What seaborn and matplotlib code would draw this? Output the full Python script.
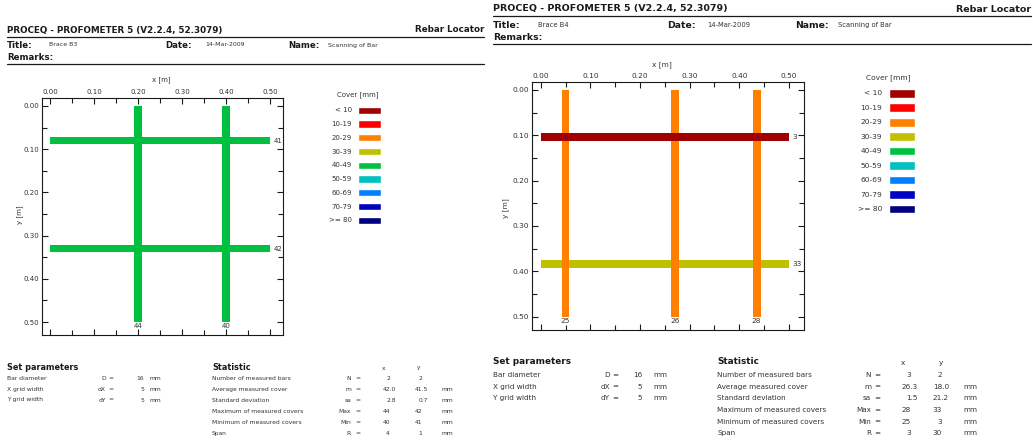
import matplotlib
matplotlib.use("Agg")
import matplotlib.pyplot as plt
from matplotlib.ticker import MultipleLocator, FormatStrFormatter
import seaborn as sns

W, H = 1033, 441

# Cover classes (legend)
cover_bins = ["< 10", "10-19", "20-29", "30-39", "40-49", "50-59", "60-69", "70-79", ">= 80"]
cover_colors = ["#a00000", "#ff0000", "#ff8000", "#c0c000", "#00c040",
                "#00c0c0", "#0080ff", "#0000c0", "#000080"]

# Brace B3: bars along y (vertical, at x pos) and along x (horizontal, at y pos)
b3_x_pos = [0.20, 0.40]
b3_x_cover = [44, 40]
b3_y_pos = [0.08, 0.33]
b3_y_cover = [41, 42]

# Brace B4
b4_x_pos = [0.05, 0.27, 0.435]
b4_x_cover = [25, 26, 28]
b4_y_pos = [0.104, 0.384]
b4_y_cover = [3, 33]

bar_len = 0.5
bar_d = 0.016

param_labels = ["Bar diameter", "X grid width", "Y grid width"]
param_sym = ["D", "dX", "dY"]
param_vals = ["16", "5", "5"]

stat_labels = ["Number of measured bars", "Average measured cover", "Standard deviation",
               "Maximum of measured covers", "Minimum of measured covers", "Span"]
stat_sym = ["N", "m", "sa", "Max", "Min", "R"]
b3_stat_x = ["2", "42.0", "2.8", "44", "40", "4"]
b3_stat_y = ["2", "41.5", "0.7", "42", "41", "1"]
b4_stat_x = ["3", "26.3", "1.5", "28", "25", "3"]
b4_stat_y = ["2", "18.0", "21.2", "33", "3", "30"]

sns.set_theme(style="white")
plt.rcParams["font.family"] = ["DejaVu Sans"]

DARK = "#1a1a1a"
GREY = "#333333"


def cover_color(c):
    return cover_colors[min(int(c // 10), 8)]


fig = plt.figure(figsize=(W / 100, H / 100), dpi=100)
fig.patch.set_facecolor("white")

# overlay in pixel coordinates for the report text
ov = fig.add_axes([0, 0, 1, 1])
ov.set_xlim(0, W)
ov.set_ylim(H, 0)
ov.axis("off")


def put(x, y, s, size, bold=False, ha="left", color=GREY, **kw):
    ov.text(x, y, s, fontsize=size, fontweight="bold" if bold else "normal",
            ha=ha, va="center", color=color, **kw)


def put_num(xcol, y, s, size):
    # integers end at the column, decimals keep their point on it
    if "." in s:
        put(xcol + 0.954 * size * 100 / 72, y, s, size, ha="right")
    else:
        put(xcol, y, s, size, ha="right")


def draw_report(L, title, xpos, xcov, ypos, ycov, sx, sy):
    # header
    put(L["x0"], L["hy"], "PROCEQ - PROFOMETER 5 (V2.2.4, 52.3079)", L["hs"], True, color=DARK)
    put(L["x1"], L["hy"], "Rebar Locator", L["hs"], True, ha="right", color=DARK)
    ov.plot([L["x0"], L["x1"]], [L["l1"], L["l1"]], color=DARK, lw=0.9)
    put(L["x0"], L["ty"], "Title:", L["ls"], True, color=DARK)
    put(L["tv"], L["ty"], title, L["ss"])
    put(L["dl"], L["ty"], "Date:", L["ls"], True, color=DARK)
    put(L["dv"], L["ty"], "14-Mar-2009", L["ss"])
    put(L["nl"], L["ty"], "Name:", L["ls"], True, color=DARK)
    put(L["nv"], L["ty"], "Scanning of Bar", L["ss"])
    put(L["x0"], L["ry"], "Remarks:", L["ls"], True, color=DARK)
    ov.plot([L["x0"], L["x1"]], [L["l2"], L["l2"]], color=DARK, lw=0.9)

    # scan plot
    left, right, top, bottom = L["box"]
    ax = fig.add_axes([left / W, 1 - bottom / H, (right - left) / W, (bottom - top) / H])
    ax.set_xlim(*L["xlim"])
    ax.set_ylim(*L["ylim"])
    for s in ax.spines.values():
        s.set_visible(True)
        s.set_color(DARK)
        s.set_linewidth(0.8)
    ax.xaxis.set_major_locator(MultipleLocator(0.1))
    ax.xaxis.set_minor_locator(MultipleLocator(0.05))
    ax.yaxis.set_major_locator(MultipleLocator(0.1))
    ax.yaxis.set_minor_locator(MultipleLocator(0.05))
    ax.xaxis.set_major_formatter(FormatStrFormatter("%.2f"))
    ax.yaxis.set_major_formatter(FormatStrFormatter("%.2f"))
    ax.tick_params(which="both", direction="in", top=True, bottom=True, left=True, right=True,
                   labeltop=True, labelbottom=False, labelleft=True, labelright=False,
                   color=DARK, width=0.8, labelsize=L["ts"], labelcolor=GREY, pad=2.2)
    ax.tick_params(which="major", length=4.5)
    ax.tick_params(which="minor", length=3.5)

    for x, c in zip(xpos, xcov):
        ax.bar(x, bar_len, bottom=0, width=bar_d, color=cover_color(c),
               zorder=3 + (100 - c) / 100, linewidth=0)
        ax.annotate(str(c), (x, bar_len), xytext=(0, -1), textcoords="offset points",
                    ha="center", va="top", fontsize=L["ts"], color=GREY)
    for y, c in zip(ypos, ycov):
        ax.barh(y, bar_len, left=0, height=bar_d, color=cover_color(c),
                zorder=3 + (100 - c) / 100, linewidth=0)
        ax.annotate(str(c), (bar_len, y), xytext=(2.5, 0), textcoords="offset points",
                    ha="left", va="center", fontsize=L["ts"], color=GREY)

    put(L["xl"][0], L["xl"][1], "x [m]", L["ts"])
    put(L["yl"][0], L["yl"][1], "y [m]", L["ts"], ha="center", rotation=90)

    # legend
    put(L["lt"][0], L["lt"][1], "Cover [mm]", L["gs"], ha="center")
    rows = [L["gy0"] + i * L["gdy"] for i in range(len(cover_bins))]
    ov.barh(rows, L["gx1"] - L["gx0"], left=L["gx0"], height=L["gh"], color=cover_colors)
    for r, lab in zip(rows, cover_bins):
        put(L["glx"], r, lab, L["gs"], ha="right")

    # set parameters
    put(L["x0"], L["sy"], "Set parameters", L["bs"], True, color=DARK)
    for yy, lab, sym, v in zip(L["prow"], param_labels, param_sym, param_vals):
        put(L["x0"], yy, lab, L["ns"])
        put(L["psym"], yy, sym, L["ns"], ha="right")
        put(L["peq"], yy, "=", L["ns"], ha="center")
        put(L["pval"], yy, v, L["ns"], ha="right")
        put(L["punit"], yy, "mm", L["ns"])

    # statistic
    put(L["sx"], L["sy"], "Statistic", L["bs"], True, color=DARK)
    put(L["hx"], L["sy"] + 1, "x", L["ns"], ha="center")
    put(L["hyy"], L["sy"] + 1, "y", L["ns"], ha="center")
    for i, (yy, lab, sym) in enumerate(zip(L["srow"], stat_labels, stat_sym)):
        put(L["sx"], yy, lab, L["ns"])
        put(L["ssym"], yy, sym, L["ns"], ha="right")
        put(L["seq"], yy, "=", L["ns"], ha="center")
        put_num(L["xcol"], yy, sx[i], L["ns"])
        put_num(L["ycol"], yy, sy[i], L["ns"])
        if i > 0:
            put(L["sunit"], yy, "mm", L["ns"])


L1 = dict(x0=7, x1=484, hy=30, l1=36.5, ty=45, ry=57, l2=64,
          tv=49, dl=165, dv=205, nl=288, nv=328,
          hs=6.3, ls=6.2, ss=4.5,
          box=(42, 283, 98, 335), xlim=(-0.0182, 0.5295), ylim=(0.530, -0.0185), ts=5.0,
          xl=(152, 80), yl=(20, 215),
          lt=(357.7, 95), glx=352, gx0=358, gx1=381, gy0=110.3, gdy=13.75, gh=7.3, gs=5.0,
          sy=367, bs=5.9, ns=4.3,
          prow=[378.3, 389.3, 400], psym=106, peq=111, pval=144, punit=150,
          sx=212, srow=[378.3, 389.3, 400.3, 411.7, 422.7, 433.7],
          ssym=351, seq=358, xcol=390, ycol=422, sunit=442, hx=384, hyy=419)

L2 = dict(x0=493, x1=1031, hy=9, l1=15.5, ty=25, ry=37, l2=43.5,
          tv=538, dl=667, dv=707, nl=795, nv=838,
          hs=6.8, ls=6.7, ss=4.9,
          box=(531.7, 804, 81.7, 330), xlim=(-0.0181, 0.5304), ylim=(0.5298, -0.0183), ts=5.3,
          xl=(652, 65), yl=(506, 208),
          lt=(888.7, 77.3), glx=882, gx0=889, gx1=915, gy0=93.3, gdy=14.46, gh=8.7, gs=5.4,
          sy=362, bs=6.4, ns=5.2,
          prow=[375, 386.7, 398.3], psym=610, peq=615, pval=642, punit=653,
          sx=717, srow=[375, 386.7, 398.3, 410, 421.7, 433.3],
          ssym=871, seq=877, xcol=911, ycol=942, sunit=963, hx=903, hyy=941)

draw_report(L1, "Brace B3", b3_x_pos, b3_x_cover, b3_y_pos, b3_y_cover, b3_stat_x, b3_stat_y)
draw_report(L2, "Brace B4", b4_x_pos, b4_x_cover, b4_y_pos, b4_y_cover, b4_stat_x, b4_stat_y)

fig.savefig("out.png", dpi=100, facecolor="white")
